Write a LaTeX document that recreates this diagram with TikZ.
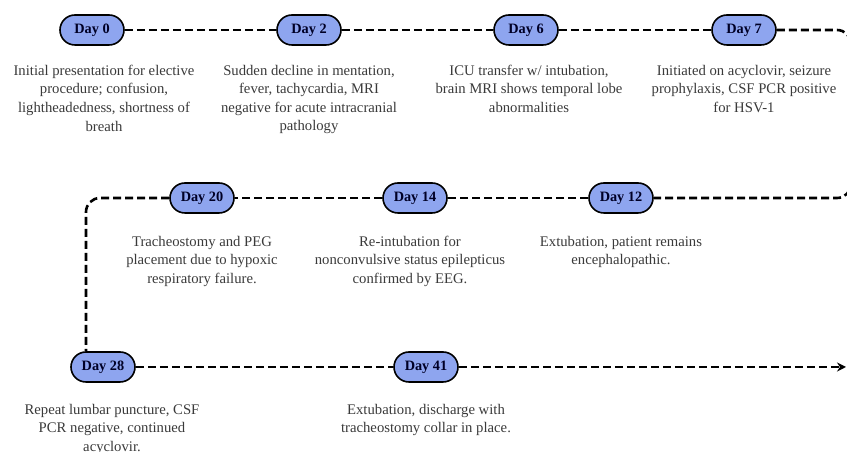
\documentclass[tikz,border=0pt]{standalone}
\usepackage{fontspec}
\setmainfont{Liberation Serif}
\usetikzlibrary{positioning,arrows.meta}
\definecolor{dayblue}{HTML}{8EA5EF}
\definecolor{desctext}{HTML}{3A3A3A}

\begin{document}
\begin{tikzpicture}[
			x=1pt, y=1pt,
			% Define styles for nodes
			day/.style={draw=black, line width=1.6pt, fill=dayblue, rounded corners=15pt,
					minimum width=64pt, minimum height=30pt, inner sep=0pt,
					font=\fontsize{14.3}{16}\selectfont\bfseries, text=black!85!blue},
			desc/.style={align=center, inner sep=0pt, text=desctext,
					font=\fontsize{14.7}{18.6}\selectfont},
			link/.style={draw, line width=2.6pt, dash pattern=on 8pt off 4pt}
		]
		\useasboundingbox (0,0) rectangle (847,452);
		\clip (0,0) rectangle (847,452);

		% First row
		\node[day] (d0) at (92,422) {Day 0};
		\node[day] (d2) at (309,422) {Day 2};
		\node[day] (d6) at (526,422) {Day 6};
		\node[day] (d7) at (744,422) {Day 7};
		% Second row
		\node[day] (d12) at (621,254) {Day 12};
		\node[day] (d14) at (415,254) {Day 14};
		\node[day] (d20) at (202,254) {Day 20};
		% Third row
		\node[day] (d28) at (103,85) {Day 28};
		\node[day] (d41) at (426,85) {Day 41};

		% Descriptions
		\node[desc, below=19pt of d0, xshift=12pt] {Initial presentation for elective\\procedure; confusion,\\lightheadedness, shortness of\\breath};
		\node[desc, below=19pt of d2] {Sudden decline in mentation,\\fever, tachycardia, MRI\\negative for acute intracranial\\pathology};
		\node[desc, below=19pt of d6, xshift=3pt] {ICU transfer w/ intubation,\\brain MRI shows temporal lobe\\abnormalities};
		\node[desc, below=19pt of d7] {Initiated on acyclovir, seizure\\prophylaxis, CSF PCR positive\\for HSV-1};
		\node[desc, below=22pt of d20] {Tracheostomy and PEG\\placement due to hypoxic\\respiratory failure.};
		\node[desc, below=22pt of d14, xshift=-5pt] {Re-intubation for\\nonconvulsive status epilepticus\\confirmed by EEG.};
		\node[desc, below=22pt of d12] {Extubation, patient remains\\encephalopathic.};
		\node[desc, below=21pt of d28, xshift=9pt] {Repeat lumbar puncture, CSF\\PCR negative, continued\\acyclovir.};
		\node[desc, below=21pt of d41] {Extubation, discharge with\\tracheostomy collar in place.};

		% Turning points and end
		\coordinate (turnR) at (851,422);
		\coordinate (turnL) at (86,254);
		\coordinate (stop) at (846,85);

		% Connectors
		\draw[link] (d0) -- (d2);
		\draw[link] (d2) -- (d6);
		\draw[link] (d6) -- (d7);
		\draw[link, rounded corners=14pt] (d7) -- (turnR) -- (turnR |- d12) -- (d12);
		\draw[link] (d12) -- (d14);
		\draw[link] (d14) -- (d20);
		\draw[link, rounded corners=14pt] (d20) -- (turnL) -- (turnL |- d28.north);
		\draw[link] (d28) -- (d41);
		\draw[link, -{Stealth[length=9pt,width=9pt]}] (d41) -- (stop);
	\end{tikzpicture}
\end{document}
